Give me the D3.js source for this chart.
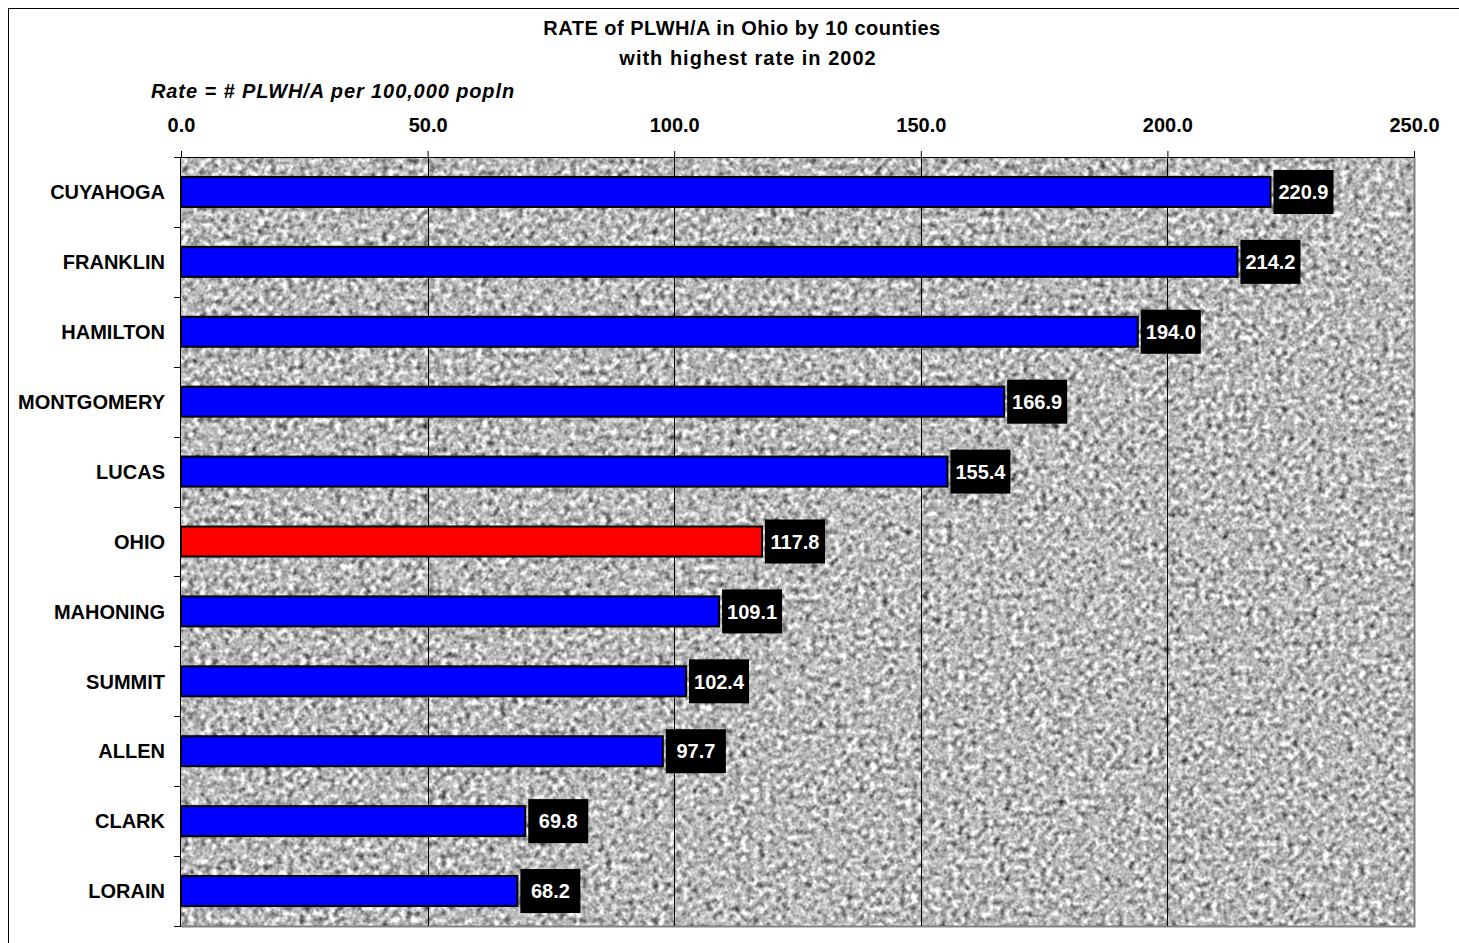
<!DOCTYPE html>
<html>
<head>
<meta charset="utf-8">
<script src="https://cdn.jsdelivr.net/npm/d3@7"></script>
<style>
  html, body { margin: 0; padding: 0; background: #fff; }
  svg { display: block; font-family: "Liberation Sans", Arial, sans-serif; }
</style>
</head>
<body>
<svg id="chart" width="1459" height="943"></svg>
<script>
// Rate of people living with HIV/AIDS per 100,000 population, 2002
const counties = ["CUYAHOGA", "FRANKLIN", "HAMILTON", "MONTGOMERY", "LUCAS", "OHIO",
                  "MAHONING", "SUMMIT", "ALLEN", "CLARK", "LORAIN"];
const rates = [220.9, 214.2, 194.0, 166.9, 155.4, 117.8, 109.1, 102.4, 97.7, 69.8, 68.2];
const xTicks = [0, 50, 100, 150, 200, 250];
const highlight = "OHIO";

const svg = d3.select("#chart");
const plot = { left: 181, right: 1414, top: 157, bottom: 926 };
const fs = 20;

// granite-like backdrop for the plot area
const defs = svg.append("defs");
const f = defs.append("filter").attr("id", "granite")
  .attr("x", 0).attr("y", 0).attr("width", 1).attr("height", 1)
  .attr("color-interpolation-filters", "sRGB");
f.append("feTurbulence").attr("type", "fractalNoise")
  .attr("baseFrequency", 0.17).attr("numOctaves", 2).attr("seed", 7).attr("result", "n");
f.append("feColorMatrix").attr("in", "n").attr("type", "matrix")
  .attr("values", "0.33 0.33 0.33 0 0  0.33 0.33 0.33 0 0  0.33 0.33 0.33 0 0  0 0 0 0 1")
  .attr("result", "g");
f.append("feComponentTransfer").attr("in", "g")
  .call(s => {
    ["feFuncR", "feFuncG", "feFuncB"].forEach(fn =>
      s.append(fn).attr("type", "linear").attr("slope", 2.0).attr("intercept", -0.27));
  });

// outer chart border
svg.append("rect").attr("x", 8.5).attr("y", 8.5)
  .attr("width", 1470).attr("height", 960)
  .attr("fill", "none").attr("stroke", "#000").attr("stroke-width", 1);

const x = d3.scaleLinear().domain([0, 250]).range([plot.left, plot.right]);
const y = d3.scaleBand().domain(counties).range([plot.top, plot.bottom]);

svg.append("rect")
  .attr("x", plot.left).attr("y", plot.top)
  .attr("width", plot.right - plot.left).attr("height", plot.bottom - plot.top)
  .attr("fill", "#aaa").attr("filter", "url(#granite)");

// right and bottom plot border
svg.append("path")
  .attr("d", `M${plot.right + 0.5},${plot.top}V${plot.bottom + 0.5}H${plot.left}`)
  .attr("fill", "none").attr("stroke", "#808080").attr("stroke-width", 2);

// vertical gridlines
svg.append("g").selectAll("line")
  .data(xTicks.slice(1, -1)).join("line")
  .attr("x1", d => Math.round(x(d)) + 0.5).attr("x2", d => Math.round(x(d)) + 0.5)
  .attr("y1", plot.top).attr("y2", plot.bottom)
  .attr("stroke", "#000").attr("stroke-width", 1);

// top value axis
const xAxis = svg.append("g").attr("transform", `translate(0,${plot.top})`)
  .call(d3.axisTop(x).tickValues(xTicks).tickFormat(d3.format(".1f"))
    .tickSize(6).tickSizeOuter(0).tickPadding(19));
xAxis.select(".domain").attr("stroke", "#000");
xAxis.selectAll("text").attr("font-size", fs).attr("font-weight", "bold").attr("fill", "#000");

// left category axis with ticks between categories
const yAxisG = svg.append("g");
yAxisG.append("line")
  .attr("x1", plot.left - 0.5).attr("x2", plot.left - 0.5)
  .attr("y1", plot.top).attr("y2", plot.bottom)
  .attr("stroke", "#000");
yAxisG.selectAll("line.tk")
  .data(d3.range(counties.length + 1)).join("line").attr("class", "tk")
  .attr("x1", plot.left - 7).attr("x2", plot.left)
  .attr("y1", i => Math.round(plot.top + i * y.step()) + 0.5)
  .attr("y2", i => Math.round(plot.top + i * y.step()) + 0.5)
  .attr("stroke", "#000");
yAxisG.selectAll("text")
  .data(counties).join("text")
  .attr("x", 165).attr("y", d => y(d) + y.bandwidth() / 2)
  .attr("dy", "0.36em").attr("text-anchor", "end")
  .attr("font-size", fs).attr("font-weight", "bold").attr("fill", "#000")
  .text(d => d);

// bars
const barH = 30;
svg.append("g").selectAll("rect")
  .data(counties).join("rect")
  .attr("x", x(0)).attr("y", d => y(d) + y.bandwidth() / 2 - barH / 2)
  .attr("width", (d, i) => x(rates[i]) - x(0)).attr("height", barH)
  .attr("fill", d => d === highlight ? "#ff0000" : "#0000ff")
  .attr("stroke", "#000").attr("stroke-width", 2);

// value labels in black boxes
const lab = svg.append("g").selectAll("g")
  .data(counties).join("g")
  .attr("transform", (d, i) => `translate(${x(rates[i]) + 3},${y(d) + y.bandwidth() / 2})`);
lab.append("rect")
  .attr("x", 0).attr("y", -22).attr("width", 60).attr("height", 44)
  .attr("fill", "#000");
lab.append("text")
  .attr("x", 30).attr("dy", "0.36em").attr("text-anchor", "middle")
  .attr("font-size", fs).attr("font-weight", "bold").attr("fill", "#fff")
  .text((d, i) => rates[i].toFixed(1));

// titles
svg.append("text").attr("x", 742).attr("y", 35).attr("text-anchor", "middle")
  .attr("font-size", fs).attr("font-weight", "bold").attr("letter-spacing", 0.5)
  .text("RATE of PLWH/A in Ohio by 10 counties");
svg.append("text").attr("x", 748).attr("y", 65).attr("text-anchor", "middle")
  .attr("font-size", fs).attr("font-weight", "bold").attr("letter-spacing", 1)
  .text("with highest rate in 2002");
svg.append("text").attr("x", 151).attr("y", 98)
  .attr("font-size", fs).attr("font-weight", "bold").attr("font-style", "italic")
  .attr("letter-spacing", 0.9)
  .text("Rate = # PLWH/A per 100,000 popln");
</script>
</body>
</html>
